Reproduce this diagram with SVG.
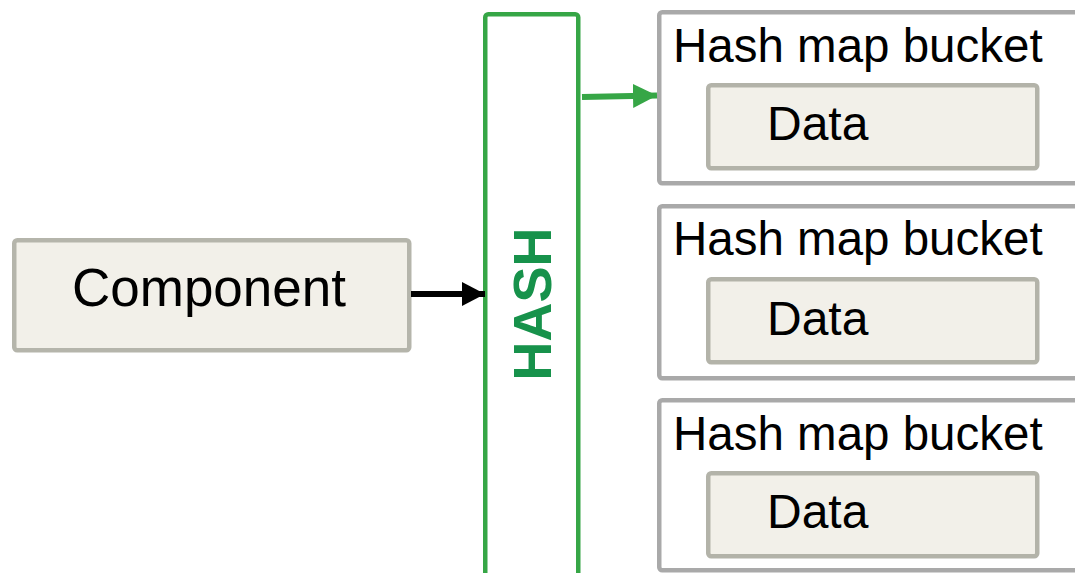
<svg xmlns="http://www.w3.org/2000/svg" width="1075" height="573" viewBox="0 0 1075 573">
  <defs>
    <style>
      .txt { font-family: "Liberation Sans", Arial, sans-serif; fill: #000000; }
      .comp { fill: #f2f0e9; stroke: #b5b5ab; stroke-width: 4.5; }
      .bucket { fill: #ffffff; stroke: #a9a9a9; stroke-width: 4.5; }
      .data { fill: #f2f0e9; stroke: #b3b3a9; stroke-width: 4.5; }
      .hashbox { fill: #ffffff; stroke: #36a646; stroke-width: 4.5; }
      .hashlabel { font-family: "Liberation Sans", Arial, sans-serif; font-weight: bold; fill: #17924b; }
    </style>
    <marker id="headBlack" markerUnits="userSpaceOnUse" markerWidth="26" markerHeight="26" refX="23" refY="13" orient="auto">
      <path d="M0,1 L23,13 L0,25 Z" fill="#000000"/>
    </marker>
    <marker id="headGreen" markerUnits="userSpaceOnUse" markerWidth="26" markerHeight="26" refX="24" refY="13" orient="auto">
      <path d="M0,1 L24,13 L0,25 Z" fill="#36a646"/>
    </marker>
  </defs>

  <rect width="1075" height="573" fill="#ffffff"/>

  <!-- source component -->
  <g id="component">
    <rect class="comp" x="14.25" y="240.25" width="395" height="110" rx="3"/>
    <text class="txt" x="209" y="306" font-size="53" text-anchor="middle">Component</text>
  </g>

  <!-- hash function column -->
  <g id="hash">
    <rect class="hashbox" x="485.25" y="14.25" width="93" height="600" rx="3"/>
    <text class="hashlabel" font-size="54" text-anchor="middle" transform="translate(551,304) rotate(-90)">HASH</text>
  </g>

  <!-- buckets -->
  <g id="bucket1">
    <rect class="bucket" x="659.25" y="12.25" width="440" height="171" rx="3"/>
    <text class="txt" x="673" y="62" font-size="47.5">Hash map bucket</text>
    <g id="data1">
      <rect class="data" x="708.25" y="85.25" width="329" height="83" rx="3"/>
      <text class="txt" x="767" y="140" font-size="48">Data</text>
    </g>
  </g>

  <g id="bucket2">
    <rect class="bucket" x="659.25" y="206.25" width="440" height="172" rx="3"/>
    <text class="txt" x="673" y="255" font-size="47.5">Hash map bucket</text>
    <g id="data2">
      <rect class="data" x="708.25" y="279.25" width="329" height="83" rx="3"/>
      <text class="txt" x="767" y="335" font-size="48">Data</text>
    </g>
  </g>

  <g id="bucket3">
    <rect class="bucket" x="659.25" y="400.25" width="440" height="170" rx="3"/>
    <text class="txt" x="673" y="450" font-size="47.5">Hash map bucket</text>
    <g id="data3">
      <rect class="data" x="708.25" y="473.25" width="329" height="83" rx="3"/>
      <text class="txt" x="767" y="528" font-size="48">Data</text>
    </g>
  </g>

  <!-- connectors -->
  <g id="connectors">
    <line x1="411" y1="294" x2="485" y2="294" stroke="#000000" stroke-width="6" marker-end="url(#headBlack)"/>
    <line x1="582" y1="97" x2="657" y2="95.5" stroke="#36a646" stroke-width="6" marker-end="url(#headGreen)"/>
  </g>
</svg>
